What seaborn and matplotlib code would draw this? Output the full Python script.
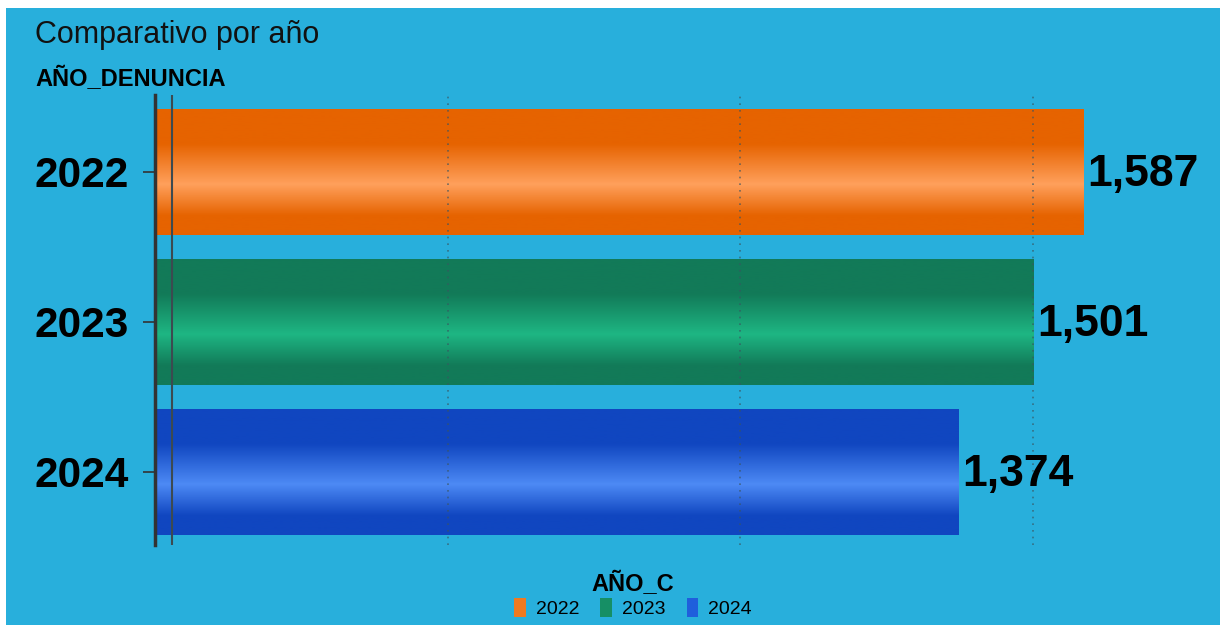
#!/usr/bin/env python3
import numpy as np
import pandas as pd
import matplotlib.pyplot as plt
import seaborn as sns
from matplotlib.patches import Patch, Rectangle
from matplotlib.colors import LinearSegmentedColormap

sns.set_theme(style="white")
plt.rcParams['font.family'] = ['Liberation Sans', 'DejaVu Sans']

# datos
years = ["2022", "2023", "2024"]
totals = [1587, 1501, 1374]
dark_colors = ["#e66300", "#127a58", "#1046c0"]
light_colors = ["#ffa05c", "#1eb683", "#4d8af5"]

BG = "#28afdc"

df = pd.DataFrame({"AÑO_DENUNCIA": years, "TOTAL": totals})

fig = plt.figure(figsize=(12.28, 6.31), dpi=100)
fig.patch.set_facecolor("white")
fig.patches.append(Rectangle((6 / 1228, 6 / 631), 1214 / 1228, 617 / 631,
                             transform=fig.transFigure, facecolor=BG,
                             edgecolor="none", zorder=-10))

ax = fig.add_axes([155 / 1228, 1 - 545 / 631, 1045 / 1228, 450 / 631])
ax.set_facecolor("none")

sns.barplot(data=df, x="TOTAL", y="AÑO_DENUNCIA", hue="AÑO_DENUNCIA",
            palette=dark_colors, orient="h", width=0.845, legend=False,
            linewidth=0, edgecolor="none", ax=ax)

# degradado tipo cilindro
for patch, c0, c1 in zip(ax.patches, dark_colors, light_colors):
    x0, y0 = patch.get_x(), patch.get_y()
    w, h = patch.get_width(), patch.get_height()
    cmap = LinearSegmentedColormap.from_list(
        "g", [(0, c0), (0.28, c0), (0.6, c1), (0.85, c0), (1, c0)])
    grad = np.linspace(0, 1, 200).reshape(-1, 1)
    im = ax.imshow(grad, cmap=cmap, aspect="auto",
                   extent=[x0, x0 + w, y0 + h, y0], zorder=2)
    im.set_clip_path(patch)
    ax.text(x0 + w + 6, y0 + h / 2 + 0.02, f"{int(w):,}", va="center", ha="left",
            fontsize=32, fontweight="bold", color="black", zorder=3)

ax.set_xlim(0, 1786)
ax.set_ylim(2.487, -0.513)

ax.set_xticks([500, 1000, 1500])
ax.set_axisbelow(False)
ax.xaxis.grid(True, linestyle=(0, (1, 3)), color="#3a5560", linewidth=1.2, alpha=0.7)
ax.tick_params(axis="x", length=0, labelbottom=False)
ax.tick_params(axis="y", length=9, width=1.2, color="#333333", left=True,
               labelsize=30.5, labelcolor="black", pad=10)
for lab in ax.get_yticklabels():
    lab.set_fontweight("bold")
ax.set_xlabel("")
ax.set_ylabel("")

for s in ["top", "right", "bottom"]:
    ax.spines[s].set_visible(False)
ax.spines["left"].set_color("#333333")
ax.spines["left"].set_linewidth(2.5)
ax.spines["left"].set_zorder(4)
ax.axvline(29, color="#3c4a50", linewidth=1.5, zorder=4)

fig.text(35 / 1228, 1 - 35 / 631, "Comparativo por año", fontsize=22,
         va="center", ha="left", color="#111111")
fig.text(35 / 1228, 1 - 79 / 631, "AÑO_DENUNCIA", fontsize=17,
         fontweight="bold", va="center", ha="left", color="black")

handles = [Patch(facecolor=c, edgecolor="none") for c in ["#f07a20", "#168f65", "#1f5fdc"]]
leg = fig.legend(handles, years, title="AÑO_C", loc="center",
                 bbox_to_anchor=(633 / 1228, 1 - 595 / 631), ncol=3, frameon=False,
                 fontsize=14, labelcolor="black",
                 title_fontproperties={"weight": "bold", "size": 17},
                 handlelength=0.6, handleheight=1.1, handletextpad=0.5,
                 columnspacing=1.1, borderpad=0, labelspacing=0.1)
leg.get_title().set_color("black")

fig.savefig("out.png", dpi=100, facecolor=fig.get_facecolor())
